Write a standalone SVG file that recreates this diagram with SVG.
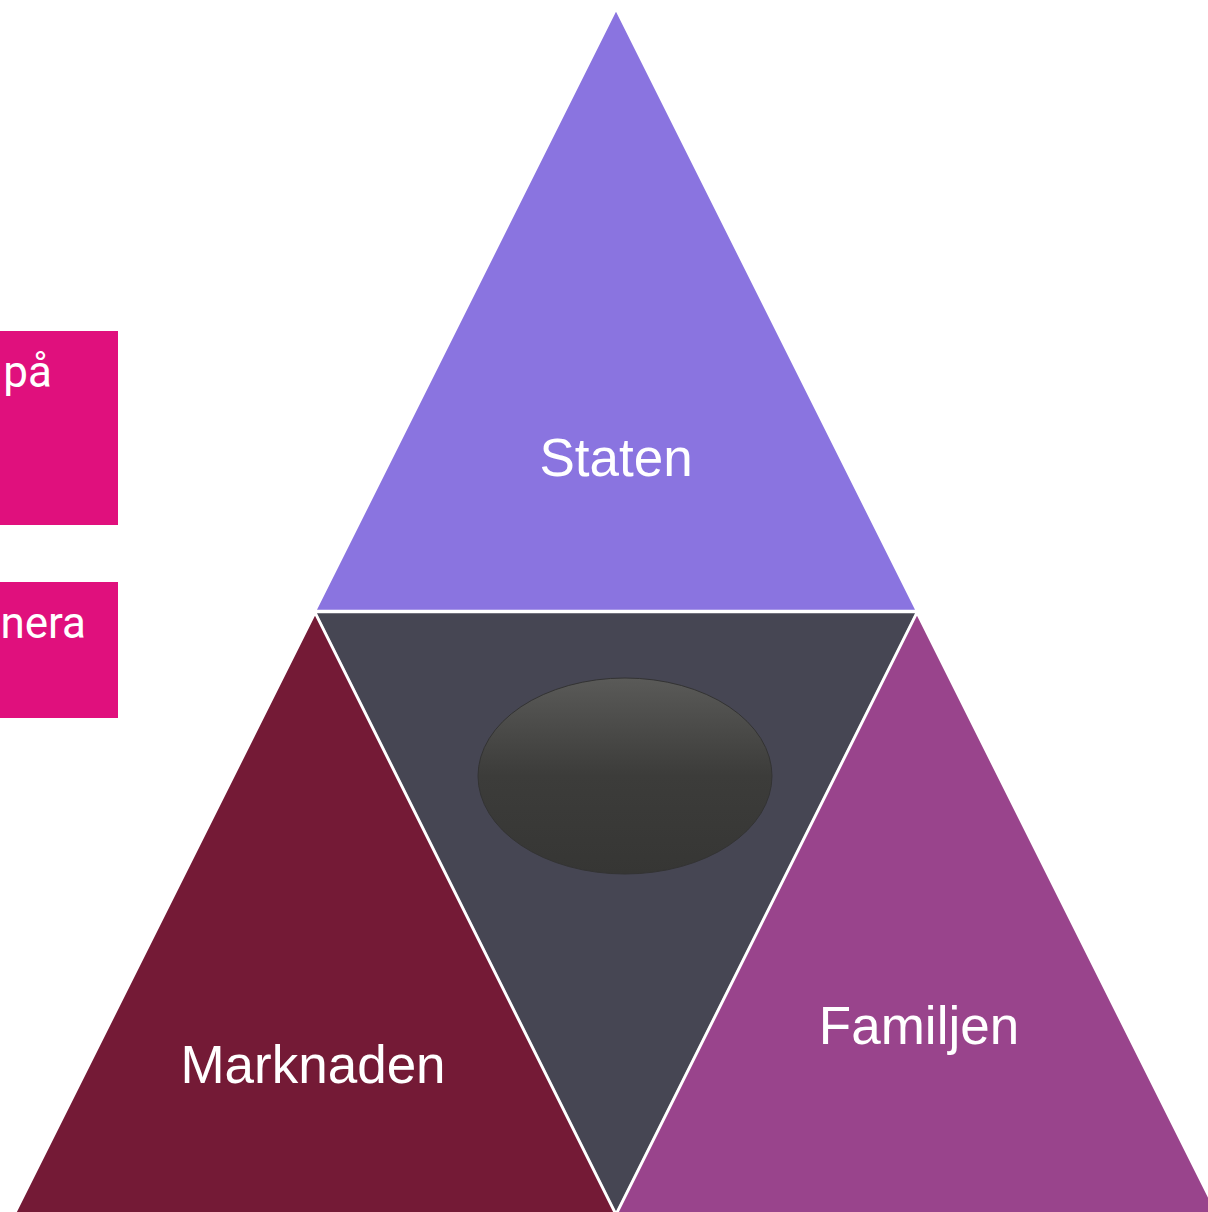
<svg xmlns="http://www.w3.org/2000/svg" width="1208" height="1212" viewBox="0 0 1208 1212">
<defs>
<linearGradient id="eg" x1="0" y1="0" x2="0" y2="1">
<stop offset="0" stop-color="#5a5a58"/>
<stop offset="0.5" stop-color="#3c3c3a"/>
<stop offset="1" stop-color="#363634"/>
</linearGradient>
<style>
.tri{stroke:#ffffff;stroke-width:2.5;stroke-linejoin:miter}
.lbl{font-family:"Liberation Sans",Arial,sans-serif;font-size:53px;fill:#ffffff;text-anchor:middle}
.box{fill:#e0107d}
.btxt{font-family:Roboto,"Liberation Sans",sans-serif;font-size:44px;fill:#ffffff;text-anchor:end}
</style>
</defs>
<rect width="1208" height="1212" fill="#ffffff"/>
<g id="box1"><rect class="box" x="0" y="331" width="118" height="194"/><text class="btxt" x="52" y="387">på</text></g>
<g id="box2"><rect class="box" x="0" y="582" width="118" height="136"/><text class="btxt" x="86" y="638">nera</text></g>
<g id="connectors"></g>
<g id="middle"><polygon class="tri" fill="#464653" points="315,612 917,612 616,1214"/></g>
<g id="marknaden"><polygon class="tri" fill="#741a36" points="315,613 616,1215 14,1215"/><text class="lbl" x="313" y="1083">Marknaden</text></g>
<g id="familjen"><polygon class="tri" fill="#99448c" points="917,613 1218,1215 616,1215"/><text class="lbl" x="919" y="1044">Familjen</text></g>
<g id="staten"><polygon class="tri" fill="#8a74e0" points="616,9 917,611 315,611"/><text class="lbl" x="616" y="476">Staten</text></g>
<g id="center"><ellipse cx="625" cy="776" rx="147" ry="98" fill="url(#eg)" stroke="#333333" stroke-width="1"/></g>
</svg>
